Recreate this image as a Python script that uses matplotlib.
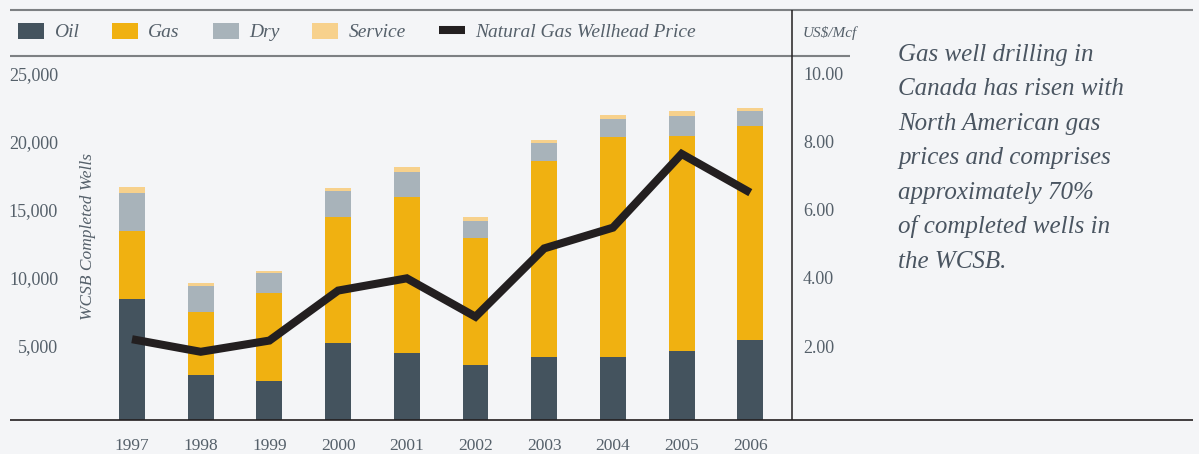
import matplotlib
matplotlib.use("Agg")
import matplotlib.pyplot as plt
import numpy as np
from matplotlib.lines import Line2D
from matplotlib.patches import Patch

# ---- data ----
years = ["1997", "1998", "1999", "2000", "2001", "2002", "2003", "2004", "2005", "2006"]
oil = [8450, 2890, 2450, 5240, 4510, 3600, 4190, 4190, 4630, 5440]
gas = [5000, 4630, 6450, 9240, 11450, 9360, 14410, 16180, 15830, 15760]
dry = [2800, 1890, 1470, 1910, 1840, 1225, 1320, 1320, 1450, 1080]
service = [440, 220, 150, 220, 370, 295, 220, 295, 370, 220]
price = [2.20, 1.83, 2.16, 3.63, 3.99, 2.86, 4.87, 5.48, 7.65, 6.51]

well_ticks = [5000, 10000, 15000, 20000, 25000]
price_ticks = [2, 4, 6, 8, 10]

paragraph = ["Gas well drilling in", "Canada has risen with", "North American gas",
             "prices and comprises", "approximately 70%", "of completed wells in",
             "the WCSB."]

# ---- style ----
BG = "#f4f5f7"
C_OIL = "#44535e"
C_GAS = "#f0b111"
C_DRY = "#a8b3ba"
C_SRV = "#f7d18c"
C_LINE = "#231f20"
TXT = "#55606a"
SERIF = ["Liberation Serif", "DejaVu Serif"]

W, H = 1199, 454
fig = plt.figure(figsize=(W / 100, H / 100), dpi=100, facecolor=BG)

def fx(px):
    return px / W

def fy(py):
    return 1 - py / H

ax = fig.add_axes([fx(10), fy(420), fx(792) - fx(10), fy(56) - fy(420)])
ax.set_facecolor(BG)
ax.patch.set_alpha(0)

x = np.arange(len(years))
ax.set_xlim(-1.776, 9.607)
ax.set_ylim(-440, 26320)
base = ax.get_ylim()[0]
bw = 0.378

oil_a = np.array(oil, float)
gas_a = np.array(gas, float)
dry_a = np.array(dry, float)
srv_a = np.array(service, float)

ax.bar(x, oil_a - base, bw, bottom=base, color=C_OIL, zorder=2)
ax.bar(x, gas_a, bw, bottom=oil_a, color=C_GAS, zorder=2)
ax.bar(x, dry_a, bw, bottom=oil_a + gas_a, color=C_DRY, zorder=2)
ax.bar(x, srv_a, bw, bottom=oil_a + gas_a + dry_a, color=C_SRV, zorder=2)

for s in ax.spines.values():
    s.set_visible(False)

ax.set_yticks(well_ticks)
ax.set_yticklabels([f"{v:,}" for v in well_ticks])
ax.tick_params(axis="y", length=0, pad=-34.6, labelsize=13, labelcolor=TXT)
ax.set_xticks(x)
ax.set_xticklabels(years)
ax.tick_params(axis="x", length=0, pad=13, labelsize=12.5, labelcolor=TXT)
for lab in ax.get_yticklabels() + ax.get_xticklabels():
    lab.set_fontfamily(SERIF)

ax2 = ax.twinx()
ax2.set_ylim(-0.176, 10.528)
ax2.plot(x, price, color=C_LINE, lw=5.8, solid_capstyle="butt",
         solid_joinstyle="miter", zorder=3)
for s in ax2.spines.values():
    s.set_visible(False)
ax2.set_yticks(price_ticks)
ax2.set_yticklabels([f"{v:.2f}" for v in price_ticks])
ax2.tick_params(axis="y", length=0, pad=8, labelsize=13, labelcolor=TXT)
for lab in ax2.get_yticklabels():
    lab.set_fontfamily(SERIF)

# frame lines
def fline(x0, x1, y0, y1, color, lw):
    fig.add_artist(Line2D([fx(x0), fx(x1)], [fy(y0), fy(y1)], color=color, lw=lw,
                          transform=fig.transFigure, solid_capstyle="butt"))

fline(10, 1193, 9.5, 9.5, "#7d8083", 1.5)
fline(10, 850, 56, 56, "#7d8083", 1.5)
fline(10, 1193, 420, 420, C_LINE, 1.2)
fline(792, 792, 9.5, 420, C_LINE, 1.1)

# axis titles
fig.text(fx(88), fy(237), "WCSB Completed Wells", rotation=90, ha="center", va="center",
         fontsize=12.5, style="italic", family=SERIF, color=TXT)
fig.text(fx(803), fy(33), "US$/Mcf", ha="left", va="center",
         fontsize=11, style="italic", family=SERIF, color=TXT)

# legend
handles = [Patch(facecolor=C_OIL), Patch(facecolor=C_GAS), Patch(facecolor=C_DRY),
           Patch(facecolor=C_SRV),
           Line2D([0], [0], color=C_LINE, lw=5.8, solid_capstyle="butt")]
labels = ["Oil", "Gas", "Dry", "Service", "Natural Gas Wellhead Price"]
leg = fig.legend(handles, labels, loc="center left", bbox_to_anchor=(fx(18), fy(32)),
                 ncol=5, frameon=False, borderpad=0, borderaxespad=0,
                 handlelength=1.34, handleheight=0.93, handletextpad=0.52,
                 columnspacing=1.7,
                 prop={"family": SERIF, "style": "italic", "size": 14})
for t in leg.get_texts():
    t.set_color(TXT)

# paragraph
for i, line in enumerate(paragraph):
    fig.text(fx(898), fy(60.7 + 34.5 * i), line, ha="left", va="baseline",
             fontsize=18, style="italic", family=SERIF, color="#4a5561")

fig.savefig("out.png", dpi=100, facecolor=BG)
